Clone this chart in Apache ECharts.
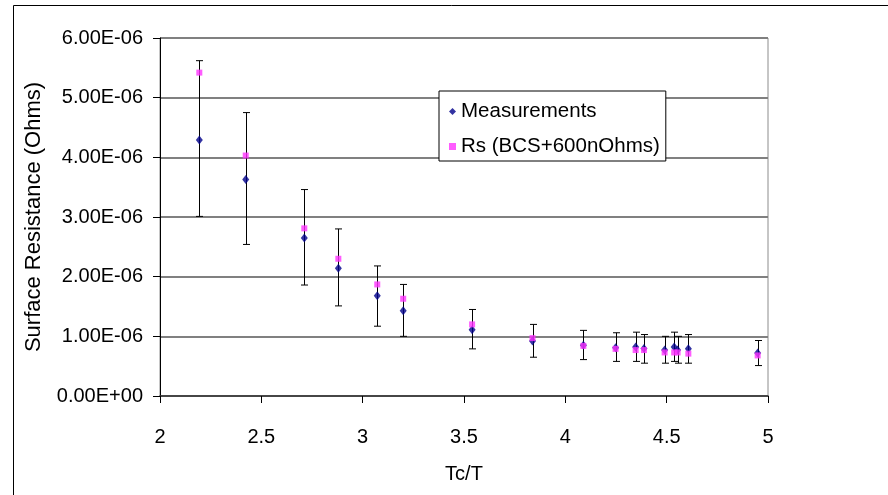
<!DOCTYPE html>
<html>
<head>
<meta charset="utf-8">
<script src="https://cdn.jsdelivr.net/npm/echarts@6/dist/echarts.min.js"></script>
<style>
html,body{margin:0;padding:0;background:#fff;}
#chart{width:888px;height:495px;}
</style>
</head>
<body>
<div id="chart"></div>
<script>
// Tc/T values
const tcOverT = [2.194, 2.423, 2.712, 2.880, 3.072, 3.200, 3.540, 3.838, 4.089, 4.248, 4.347, 4.388, 4.490, 4.537, 4.554, 4.607, 4.949];
// Measured surface resistance (Ohms)
const measurements = [4.29e-6, 3.63e-6, 2.65e-6, 2.14e-6, 1.68e-6, 1.43e-6, 1.11e-6, 0.92e-6, 0.85e-6, 0.81e-6, 0.82e-6, 0.795e-6, 0.77e-6, 0.82e-6, 0.77e-6, 0.79e-6, 0.72e-6];
// Rs (BCS + 600 nOhms)
const rsModel = [5.42e-6, 4.03e-6, 2.81e-6, 2.30e-6, 1.87e-6, 1.63e-6, 1.20e-6, 0.97e-6, 0.84e-6, 0.79e-6, 0.77e-6, 0.77e-6, 0.73e-6, 0.73e-6, 0.73e-6, 0.71e-6, 0.68e-6];
// Error bar limits of the measurements
const errHigh = [5.62e-6, 4.75e-6, 3.46e-6, 2.80e-6, 2.18e-6, 1.87e-6, 1.45e-6, 1.20e-6, 1.10e-6, 1.06e-6, 1.07e-6, 1.03e-6, 1.00e-6, 1.07e-6, 1.00e-6, 1.03e-6, 0.93e-6];
const errLow = [3.01e-6, 2.54e-6, 1.86e-6, 1.51e-6, 1.17e-6, 1.00e-6, 0.79e-6, 0.65e-6, 0.61e-6, 0.58e-6, 0.58e-6, 0.55e-6, 0.55e-6, 0.58e-6, 0.55e-6, 0.55e-6, 0.51e-6];
// Axis settings
const xTicks = [2, 2.5, 3, 3.5, 4, 4.5, 5];
const yTicks = [0, 1e-6, 2e-6, 3e-6, 4e-6, 5e-6, 6e-6];

const FONT = '"Liberation Sans", Arial, Helvetica, sans-serif';

function sci(v) {
  let s = Number(v).toExponential(2).toUpperCase();
  const m = s.match(/^(-?[\d.]+)E([+-])(\d+)$/);
  if (!m) return s;
  let e = m[3];
  if (e.length < 2) e = '0' + e;
  return m[1] + 'E' + m[2] + e;
}

const chart = echarts.init(document.getElementById('chart'), null, {renderer: 'canvas'});

const measData = tcOverT.map((x, i) => [x, measurements[i]]);
const rsData = tcOverT.map((x, i) => [x, rsModel[i]]);
const errData = tcOverT.map((x, i) => [x, errLow[i], errHigh[i]]);

chart.setOption({
  animation: false,
  backgroundColor: '#fff',
  textStyle: {fontFamily: FONT},
  graphic: [{
    type: 'rect',
    shape: {x: 13.5, y: 5.5, width: 900, height: 520},
    style: {fill: 'none', stroke: '#000', lineWidth: 1},
    z: -10, silent: true
  }],
  grid: {
    left: 160, top: 38, right: 120, bottom: 99,
    show: true, borderColor: '#8c8c8c', borderWidth: 1, backgroundColor: 'transparent'
  },
  legend: {
    left: 439, top: 91,
    orient: 'vertical',
    backgroundColor: '#fff',
    borderColor: '#000', borderWidth: 1,
    padding: [10, 6, 4, 10],
    itemWidth: 7, itemHeight: 7, itemGap: 14, itemTextGap: 7,
    textStyle: {fontFamily: FONT, fontSize: 20.5, color: '#000'},
    data: [
      {name: 'Measurements', icon: 'diamond', itemStyle: {color: '#00008B'}},
      {name: 'Rs (BCS+600nOhms)', icon: 'rect', itemStyle: {color: '#FF33FF'}}
    ]
  },
  xAxis: {
    type: 'value', min: xTicks[0], max: xTicks[xTicks.length - 1], interval: 0.5,
    name: 'Tc/T', nameLocation: 'middle', nameGap: 68,
    nameTextStyle: {fontFamily: FONT, fontSize: 20, color: '#000'},
    axisLine: {show: true, onZero: false, lineStyle: {color: '#333', width: 1.5}},
    axisTick: {show: true, length: 7, inside: false, lineStyle: {color: '#000', width: 1}},
    axisLabel: {margin: 31, fontFamily: FONT, fontSize: 20, color: '#000', formatter: v => String(v)},
    splitLine: {show: false}
  },
  yAxis: {
    type: 'value', min: yTicks[0], max: yTicks[yTicks.length - 1], interval: 1e-6,
    name: 'Surface Resistance (Ohms)', nameLocation: 'middle', nameGap: 115, nameRotate: 90,
    nameTextStyle: {fontFamily: FONT, fontSize: 22, color: '#000'},
    axisLine: {show: true, onZero: false, lineStyle: {color: '#000', width: 1}},
    axisTick: {show: true, length: 7, inside: false, lineStyle: {color: '#000', width: 1}},
    axisLabel: {margin: 17, fontFamily: FONT, fontSize: 20, color: '#000', formatter: v => sci(v)},
    splitLine: {show: true, lineStyle: {color: '#808080', width: 2}}
  },
  series: [
    {
      name: 'errorbars', type: 'custom', z: 1, silent: true,
      renderItem: function (params, api) {
        const x = api.value(0);
        const lo = api.coord([x, api.value(1)]);
        const hi = api.coord([x, api.value(2)]);
        const cx = Math.round(lo[0]) + 0.5;
        const cap = 3.5;
        const st = {stroke: '#000', lineWidth: 1};
        return {
          type: 'group',
          children: [
            {type: 'line', shape: {x1: cx, y1: hi[1], x2: cx, y2: lo[1]}, style: st},
            {type: 'line', shape: {x1: cx - cap, y1: hi[1], x2: cx + cap, y2: hi[1]}, style: st},
            {type: 'line', shape: {x1: cx - cap, y1: lo[1], x2: cx + cap, y2: lo[1]}, style: st}
          ]
        };
      },
      encode: {x: 0, y: [1, 2]},
      data: errData
    },
    {
      name: 'Measurements', type: 'scatter', z: 2,
      symbol: 'diamond', symbolSize: [7, 9],
      itemStyle: {color: '#00008B'},
      data: measData
    },
    {
      name: 'Rs (BCS+600nOhms)', type: 'scatter', z: 3,
      symbol: 'rect', symbolSize: 6,
      itemStyle: {color: '#FF33FF'},
      data: rsData
    }
  ]
});
</script>
</body>
</html>
